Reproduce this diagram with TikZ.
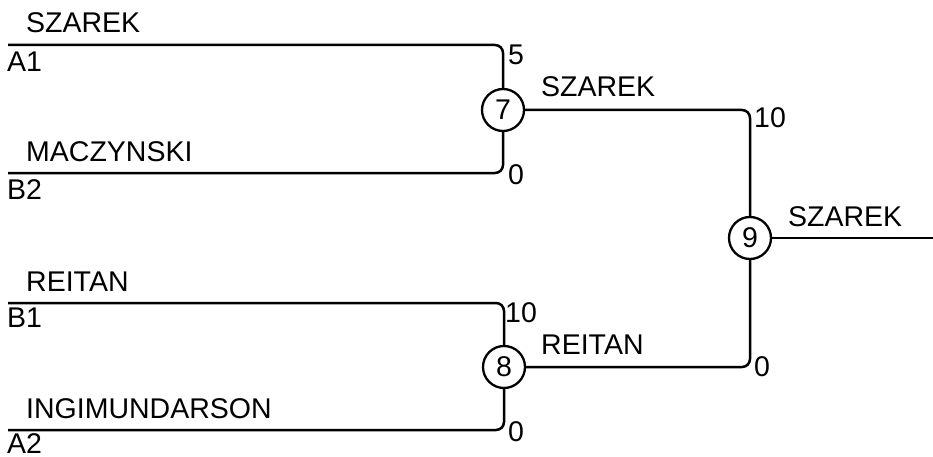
\documentclass[tikz,border=0pt]{standalone}
\usepackage{fontspec}
\setmainfont{Liberation Sans}
\begin{document}
\begin{tikzpicture}[x=1pt,y=-1pt,
  conn/.style={line width=2.5pt, rounded corners=8pt},
  match/.style={circle, draw, line width=2.3pt, minimum size=42pt, inner sep=0pt, font=\fontsize{28.5}{32}\selectfont},
  lbl/.style={anchor=base west, inner sep=0pt, font=\fontsize{28.5}{32}\selectfont}]
\useasboundingbox (0,0) rectangle (933,457);
% match nodes
\node[match] (c7) at (503,110) {7};
\node[match] (c8) at (504,367) {8};
\node[match] (c9) at (750,238) {9};
% line starts
\coordinate (a1) at (8,45);
\coordinate (b2) at (8,173);
\coordinate (b1) at (8,303);
\coordinate (a2) at (8,430);
\coordinate (out) at (933,238);
% connectors
\draw[conn] (a1) -| (c7);
\draw[conn] (b2) -| (c7);
\draw[conn] (b1) -| (c8);
\draw[conn] (a2) -| (c8);
\draw[conn] (c7) -| (c9);
\draw[conn] (c8) -| (c9);
\draw[conn] (c9) -- (out);
% labels
\node[lbl] (t1) at (26,33) {SZAREK};
\node[lbl] (t2) at (7,72) {A1};
\node[lbl] (t3) at (26,161) {MACZYNSKI};
\node[lbl] (t4) at (7,199) {B2};
\node[lbl] (t5) at (26,291) {REITAN};
\node[lbl] (t6) at (7,327) {B1};
\node[lbl] (t7) at (26,418) {INGIMUNDARSON};
\node[lbl] (t8) at (7,453) {A2};
\node[lbl] (s1) at (508,65) {5};
\node[lbl] (s2) at (508,184) {0};
\node[lbl] (s3) at (505,322) {10};
\node[lbl] (s4) at (508,441) {0};
\node[lbl] (w1) at (541,97) {SZAREK};
\node[lbl] (w2) at (541,354) {REITAN};
\node[lbl] (s5) at (754,128) {10};
\node[lbl] (s6) at (754,376) {0};
\node[lbl] (w3) at (788,226) {SZAREK};
\end{tikzpicture}
\end{document}
